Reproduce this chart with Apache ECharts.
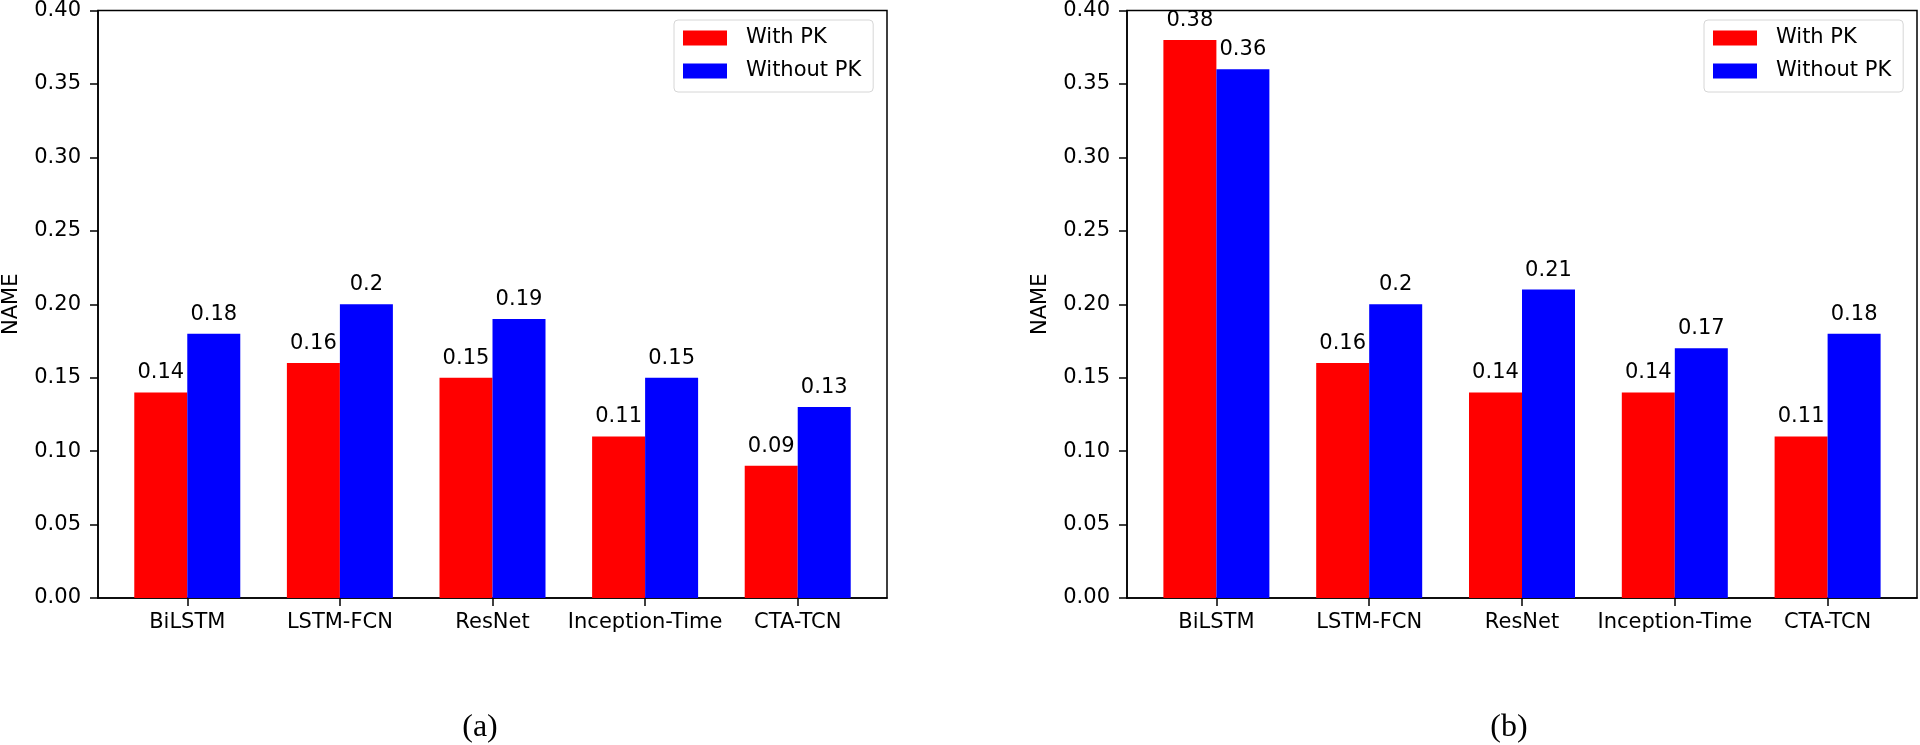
<!DOCTYPE html>
<html>
<head>
<meta charset="utf-8">
<script src="https://cdn.jsdelivr.net/npm/echarts@6/dist/echarts.min.js"></script>
<style>
html,body{margin:0;padding:0;background:#fff;}
#chart{width:1920px;height:745px;}
</style>
</head>
<body>
<div id="chart"></div>
<script>
const categories = ['BiLSTM', 'LSTM-FCN', 'ResNet', 'Inception-Time', 'CTA-TCN'];
const seriesNames = ['With PK', 'Without PK'];
const withPK_a = [0.14, 0.16, 0.15, 0.11, 0.09];
const withoutPK_a = [0.18, 0.20, 0.19, 0.15, 0.13];
const withPK_b = [0.38, 0.16, 0.14, 0.14, 0.11];
const withoutPK_b = [0.36, 0.20, 0.21, 0.17, 0.18];
const yTicks = [0, 0.05, 0.10, 0.15, 0.20, 0.25, 0.30, 0.35, 0.40];
const yName = 'NAME';
const captions = ['(a)', '(b)'];

const FONT = 'DejaVu Sans';
const FS = 21;
const catIdx = categories.map((_, i) => i);

function xAxis(gi) {
  return {
    type: 'value', gridIndex: gi, min: -0.585, max: categories.length - 1 + 0.585,
    splitLine: { show: false },
    axisLine: { show: true, onZero: false, lineStyle: { color: '#000', width: 1.5 } },
    axisTick: { show: true, length: 8, lineStyle: { color: '#000', width: 1.5 }, customValues: catIdx },
    axisLabel: { customValues: catIdx, formatter: v => categories[Math.round(v)], color: '#000', fontFamily: FONT, fontSize: FS, margin: 14 }
  };
}
function yAxis(gi) {
  return {
    type: 'value', gridIndex: gi, min: yTicks[0], max: yTicks[yTicks.length - 1], interval: 0.05,
    name: yName, nameLocation: 'middle', nameRotate: 90, nameGap: 76,
    nameTextStyle: { color: '#000', fontFamily: FONT, fontSize: FS },
    splitLine: { show: false },
    axisLine: { show: true, onZero: false, lineStyle: { color: '#000', width: 1.5 } },
    axisTick: { show: true, length: 8, lineStyle: { color: '#000', width: 1.5 } },
    axisLabel: { formatter: v => v.toFixed(2), color: '#000', fontFamily: FONT, fontSize: FS, margin: 17 }
  };
}
function barSeries(name, vals, gi, color) {
  return {
    type: 'bar', name: name, xAxisIndex: gi, yAxisIndex: gi,
    data: vals.map((v, i) => [i, v]),
    barWidth: 53, barGap: '0%',
    itemStyle: { color: color },
    label: { show: true, position: 'top', distance: 9, color: '#000', fontFamily: FONT, fontSize: FS,
      formatter: p => String(p.value[1]) },
    emphasis: { disabled: true },
    animation: false
  };
}
function legend(left) {
  return {
    orient: 'vertical', left: left, top: 20,
    data: seriesNames,
    itemWidth: 44, itemHeight: 15, itemGap: 9,
    icon: 'rect',
    padding: [6, 12, 9, 9],
    borderColor: '#d6d6d6', borderWidth: 1, borderRadius: 4, backgroundColor: '#fff',
    textStyle: { color: '#000', fontFamily: FONT, fontSize: FS, lineHeight: 24, padding: [0, 0, 0, 14] },
    selectedMode: false
  };
}

const chart = echarts.init(document.getElementById('chart'));
chart.setOption({
  animation: false,
  backgroundColor: '#fff',
  grid: [
    { left: 97, top: 10, width: 790, height: 588, show: true, borderColor: '#000', borderWidth: 1.5, backgroundColor: 'transparent' },
    { left: 1127, top: 10, width: 790, height: 588, show: true, borderColor: '#000', borderWidth: 1.5, backgroundColor: 'transparent' }
  ],
  xAxis: [xAxis(0), xAxis(1)],
  yAxis: [yAxis(0), yAxis(1)],
  legend: [legend(674), legend(1704)],
  series: [
    barSeries(seriesNames[0], withPK_a, 0, '#ff0000'),
    barSeries(seriesNames[1], withoutPK_a, 0, '#0000ff'),
    barSeries(seriesNames[0], withPK_b, 1, '#ff0000'),
    barSeries(seriesNames[1], withoutPK_b, 1, '#0000ff')
  ],
  graphic: [
    { type: 'text', x: 480, y: 728, style: { text: captions[0], font: '32px "Liberation Serif"', fill: '#000', textAlign: 'center', textVerticalAlign: 'middle' } },
    { type: 'text', x: 1509, y: 728, style: { text: captions[1], font: '32px "Liberation Serif"', fill: '#000', textAlign: 'center', textVerticalAlign: 'middle' } }
  ]
});
</script>
</body>
</html>
